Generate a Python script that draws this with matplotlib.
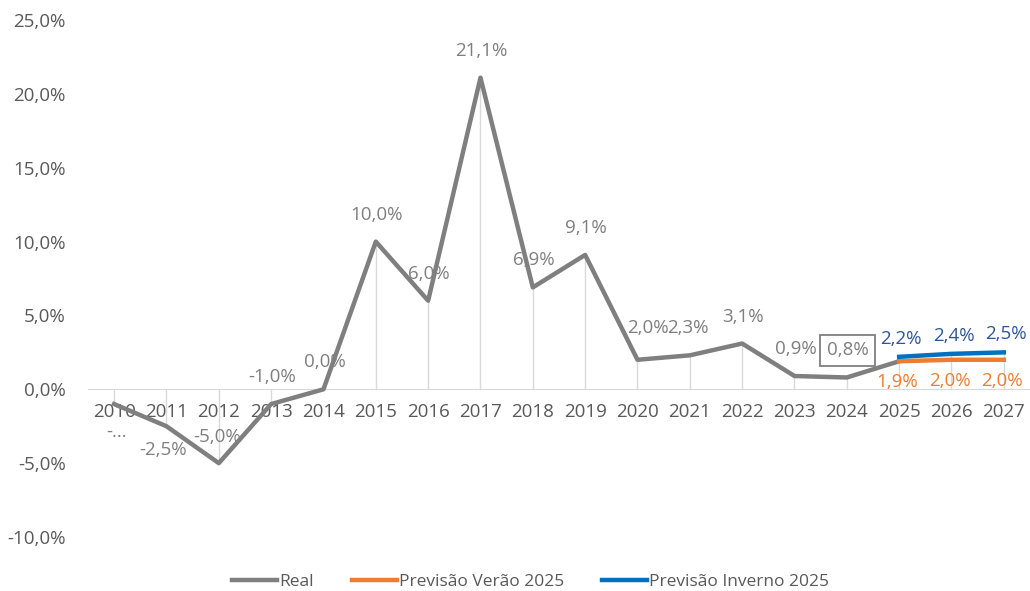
import matplotlib.pyplot as plt

plt.rcParams['font.family'] = ['Open Sans', 'DejaVu Sans']

years = list(range(2010, 2028))
real_years = list(range(2010, 2026))
real = [-1.0, -2.5, -5.0, -1.0, 0.0, 10.0, 6.0, 21.1, 6.9, 9.1,
        2.0, 2.3, 3.1, 0.9, 0.8, 1.9]
real_labels = ['-...', '-2,5%', '-5,0%', '-1,0%', '0,0%', '10,0%', '6,0%', '21,1%',
               '6,9%', '9,1%', '2,0%', '2,3%', '3,1%', '0,9%', '0,8%', None]
fc_years = [2025, 2026, 2027]
verao = [1.9, 2.0, 2.0]
inverno = [2.2, 2.4, 2.5]

GREY = '#7f7f7f'
ORANGE = '#ed7d31'
BLUE = '#0070c0'
TXT = '#595959'
FS = 13.5


def fmt(v):
    return ('%.1f%%' % v).replace('.', ',')


fig = plt.figure(figsize=(10.3, 5.91), dpi=100)
ax = fig.add_axes([0.0854, 0.0914, 0.9146, 0.8746])
ax.spines['bottom'].set_position(('data', 0))
ax.spines['bottom'].set_color('#d9d9d9')
for s in ['top', 'right', 'left']:
    ax.spines[s].set_visible(False)

# drop lines
for x, v in zip(real_years[:-1], real[:-1]):
    ax.plot([x, x], [0, v], color='#d9d9d9', lw=1, zorder=1)
for x, v in zip(fc_years, inverno):
    ax.plot([x, x], [0, v], color='#d9d9d9', lw=1, zorder=1)

ax.plot(real_years, real, color=GREY, lw=3.2, label='Real', zorder=3)
ax.plot(fc_years, verao, color=ORANGE, lw=3.2, label='Previsão Verão 2025', zorder=4)
ax.plot(fc_years, inverno, color=BLUE, lw=3.2, label='Previsão Inverno 2025', zorder=5)

# data labels (offsets in pixels)
offs = {2010: (2, -28), 2011: (-3, -24), 2012: (-2, 26), 2020: (10, 32), 2021: (-2, 27)}
for x, v, lab in zip(real_years, real, real_labels):
    if lab is None:
        continue
    dx, dy = offs.get(x, (1, 27))
    t = ax.annotate(lab, (x, v), xytext=(dx, dy), textcoords='offset pixels',
                    ha='center', va='center', fontsize=FS, color=GREY, zorder=6)
    if x == 2024:
        t.set_bbox(dict(boxstyle='square,pad=0.35', fc='none', ec=GREY, lw=1.3))

for x, v in zip(fc_years, inverno):
    ax.annotate(fmt(v), (x, v), xytext=(2, 18), textcoords='offset pixels',
                ha='center', va='center', fontsize=FS, color='#2f5597', zorder=6)
for x, v in zip(fc_years, verao):
    ax.annotate(fmt(v), (x, v), xytext=(-2, -21), textcoords='offset pixels',
                ha='center', va='center', fontsize=FS, color=ORANGE, zorder=6)

ax.set_xlim(2009.5, 2027.5)
ax.set_ylim(-10, 25)
ax.set_yticks(range(-10, 26, 5))
ax.set_yticklabels([fmt(v) for v in range(-10, 26, 5)], fontsize=FS, color=TXT)
ax.set_xticks(years)
ax.set_xticklabels([str(y) for y in years], fontsize=FS, color=TXT)
ax.tick_params(length=0)
ax.tick_params(axis='y', pad=16)
ax.tick_params(axis='x', pad=10)

fig.legend(loc='lower center', bbox_to_anchor=(0.515, -0.025), ncol=3, frameon=False,
           fontsize=12.5, handlelength=2.6, handletextpad=0.1, columnspacing=2.2,
           labelcolor=TXT)

fig.savefig('out.png', dpi=100)
